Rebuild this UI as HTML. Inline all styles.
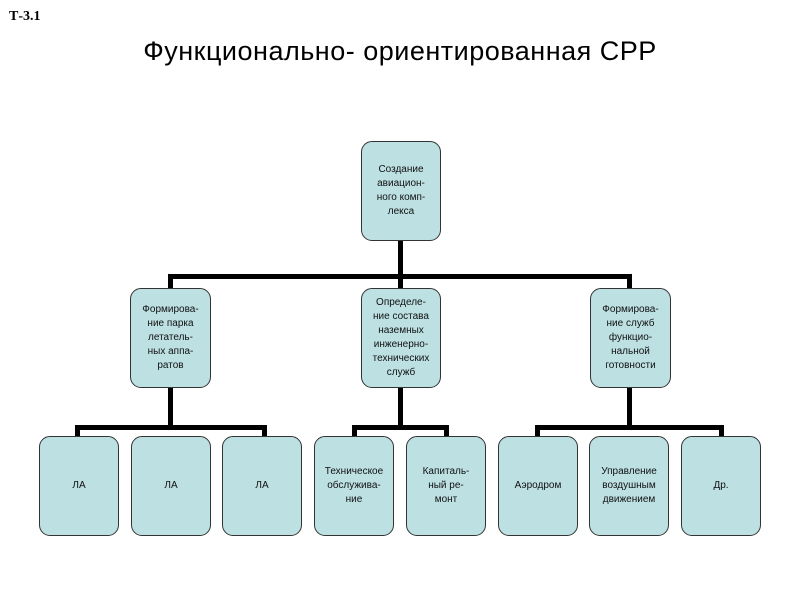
<!DOCTYPE html>
<html><head><meta charset="utf-8"><style>
body{margin:0;width:800px;height:600px;background:#fff;position:relative;overflow:hidden;font-family:"Liberation Sans",sans-serif}
.b{position:absolute;box-sizing:border-box;background:#bde0e3;border:1px solid #333;border-radius:11px;display:flex;align-items:center;justify-content:center;text-align:center;font-size:10px;line-height:14px;color:#111}
.l{position:absolute;background:#000}
</style></head><body>
<div style="position:absolute;left:9px;top:9px;font:bold 14px 'Liberation Serif',serif">Т-3.1</div>
<div style="position:absolute;left:0;width:800px;top:36px;text-align:center;font-size:27px;letter-spacing:0.5px">Функционально- ориентированная СРР</div>
<!-- lines -->
<div class="l" style="left:398px;top:240px;width:5px;height:50px"></div>
<div class="l" style="left:168px;top:274px;width:464px;height:5px"></div>
<div class="l" style="left:168px;top:274px;width:5px;height:16px"></div>
<div class="l" style="left:627px;top:274px;width:5px;height:16px"></div>
<div class="l" style="left:168px;top:388px;width:5px;height:42px"></div>
<div class="l" style="left:398px;top:388px;width:5px;height:42px"></div>
<div class="l" style="left:627px;top:388px;width:5px;height:42px"></div>
<div class="l" style="left:75px;top:425px;width:192px;height:5px"></div>
<div class="l" style="left:75px;top:425px;width:5px;height:12px"></div>
<div class="l" style="left:262px;top:425px;width:5px;height:12px"></div>
<div class="l" style="left:352px;top:425px;width:97px;height:5px"></div>
<div class="l" style="left:352px;top:425px;width:5px;height:12px"></div>
<div class="l" style="left:444px;top:425px;width:5px;height:12px"></div>
<div class="l" style="left:535px;top:425px;width:189px;height:5px"></div>
<div class="l" style="left:535px;top:425px;width:5px;height:12px"></div>
<div class="l" style="left:719px;top:425px;width:5px;height:12px"></div>
<!-- boxes -->
<div class="b" style="left:361px;top:141px;width:80px;height:100px">Создание<br>авиацион-<br>ного комп-<br>лекса</div>
<div class="b" style="left:130px;top:288px;width:81px;height:100px">Формирова-<br>ние парка<br>летатель-<br>ных аппа-<br>ратов</div>
<div class="b" style="left:361px;top:288px;width:80px;height:100px">Определе-<br>ние состава<br>наземных<br>инженерно-<br>технических<br>служб</div>
<div class="b" style="left:590px;top:288px;width:81px;height:100px">Формирова-<br>ние служб<br>функцио-<br>нальной<br>готовности</div>
<div class="b" style="left:39px;top:436px;width:80px;height:100px">ЛА</div>
<div class="b" style="left:131px;top:436px;width:80px;height:100px">ЛА</div>
<div class="b" style="left:222px;top:436px;width:80px;height:100px">ЛА</div>
<div class="b" style="left:314px;top:436px;width:80px;height:100px">Техническое<br>обслужива-<br>ние</div>
<div class="b" style="left:406px;top:436px;width:80px;height:100px">Капиталь-<br>ный ре-<br>монт</div>
<div class="b" style="left:498px;top:436px;width:80px;height:100px">Аэродром</div>
<div class="b" style="left:589px;top:436px;width:80px;height:100px">Управление<br>воздушным<br>движением</div>
<div class="b" style="left:681px;top:436px;width:80px;height:100px">Др.</div>
</body></html>
